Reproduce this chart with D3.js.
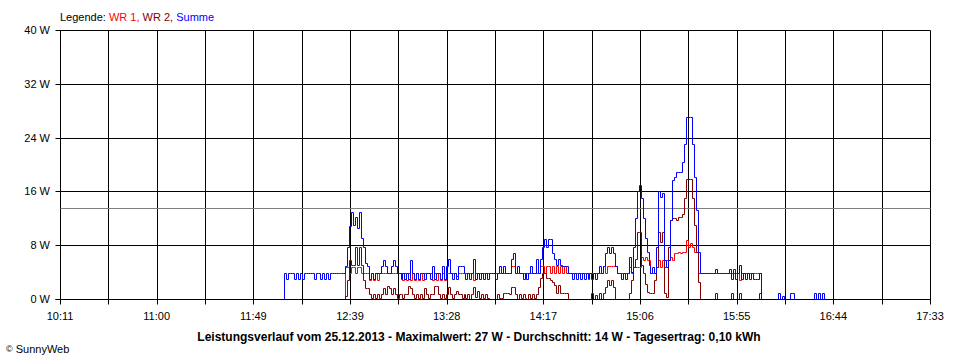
<!DOCTYPE html>
<html><head><meta charset="utf-8">
<script src="https://cdn.jsdelivr.net/npm/d3@7/dist/d3.min.js"></script>
<style>
body{margin:0;background:#fff;}
svg{display:block;font-family:"Liberation Sans",Arial,sans-serif;font-size:11px;}
</style></head><body>
<svg id="c" width="960" height="360"></svg>
<script>
// ---- data ----
const timeLabels = ["10:11","11:00","11:49","12:39","13:28","14:17","15:06","15:55","16:44","17:33"];
const timeDomain = [611, 1053];          // minutes after midnight (10:11 .. 17:33)
const wattTicks = [0, 8, 16, 24, 32, 40];
const average = 13.6;                     // W (gray line)
const legendItems = ["WR 1", "WR 2", "Summe"];
const titleText = "Leistungsverlauf vom 25.12.2013 - Maximalwert: 27 W - Durchschnitt: 14 W - Tagesertrag: 0,10 kWh";

// Summe, one value per minute starting 12:04
const sumStart = 724;
const sumVals = [
 0,3.9,2.9,3.9,3.9,3.9,2.9,3.9,2.9,3.9,
 2.9,3.9,3.9,3.9,3.9,3.9,2.9,3.9,3.9,2.9,
 3.9,2.9,3.9,2.9,3.9,3.9,3.9,3.9,3.9,3.9,
 3.9,3.9,4.9,7.8,10.8,12.9,11.0,12.2,10.5,12.9,
 9.0,7.8,5.3,4.9,2.9,3.9,2.9,3.9,3.9,3.9,
 4.9,5.8,4.9,3.9,3.9,4.9,5.8,4.9,3.9,3.9,
 2.9,3.9,2.9,3.9,2.9,5.8,3.9,2.9,3.9,2.9,
 3.9,3.9,2.9,3.9,3.9,2.9,4.9,2.9,3.9,3.9,
 2.9,4.9,2.9,4.9,5.9,3.9,2.9,3.9,2.9,4.9,
 4.9,4.9,3.9,2.9,3.9,2.9,3.9,5.9,2.9,3.9,
 2.9,3.9,2.9,3.9,2.9,3.9,3.9,3.9,2.9,3.9,
 4.9,3.9,4.9,3.9,3.9,3.9,5.9,6.8,3.9,4.9,
 3.9,3.9,2.9,3.9,2.9,3.9,4.9,3.9,3.9,5.9,
 3.9,5.9,7.8,8.9,7.8,8.9,8.9,6.8,6.0,5.0,
 6.0,5.0,4.9,4.9,4.9,3.9,3.9,2.9,3.9,2.9,
 3.9,2.9,3.9,2.9,3.9,2.9,3.9,2.9,3.9,2.9,
 3.9,4.9,3.9,4.9,6.8,7.8,6.8,7.8,6.8,4.9,
 3.9,3.9,2.9,3.9,2.9,3.9,6.3,4.0,7.8,12.0,
 16.0,17.0,15.0,12.0,9.0,7.0,5.0,3.9,4.8,3.9,
 7.8,16.0,15.2,15.8,5.8,4.8,5.8,11.7,17.7,18.2,
 18.9,18.9,18.9,20.4,23.1,27.0,27.0,27.0,23.1,18.2,
 13.2,7.0,3.9,3.9,3.9,3.9,3.9,3.9,3.9,3.9,
 4.4,3.9,3.9,3.9,3.9,3.9,3.9,4.4,2.9,4.4,
 2.9,3.9,5.0,2.9,3.9,2.9,3.9,2.9,3.9,2.9,
 2.9,2.9,3.9,0,0,0,0,0,0,0,
 0,0,0.85,0,0.5,0,0,0,0.85,0.85,
 0,0,0,0,0,0,0,0,0,0,
 0.85,0,0.85,0,0.85,0
];

// WR 1, one value per minute starting 12:35
const wr1Start = 755;
const wr1Vals = [
 0,4.8,4.8,3.9,4.8,4.8,3.9,4.8,4.8,3.9,
 3.9,3.9,3.9,2.8,3.9,2.8,3.9,2.8,3.9,3.9,
 3.9,3.9,3.9,3.9,3.9,3.9,3.9,3.9,3.9,3.9,
 2.8,3.9,2.8,3.9,2.8,3.9,2.8,3.9,2.8,3.9,
 2.8,3.9,3.9,3.9,3.9,2.8,3.9,2.8,3.9,2.8,
 3.9,2.8,3.9,3.9,3.9,3.9,3.9,3.4,3.9,3.9,
 3.9,3.9,3.9,3.9,3.9,3.9,2.8,3.9,3.9,3.9,
 3.9,3.9,3.9,3.9,3.9,3.9,3.9,3.9,3.9,3.9,
 3.9,3.9,3.9,3.9,3.9,4.9,4.9,3.9,3.9,3.9,
 3.9,3.9,3.9,3.9,3.9,3.9,3.9,3.9,3.9,3.9,
 4.9,4.9,3.9,4.9,4.9,3.9,4.9,3.9,4.9,3.9,
 4.9,3.9,4.9,3.9,3.9,3.9,3.9,3.9,3.9,3.9,
 3.9,3.9,3.9,3.9,3.9,3.9,3.9,3.9,3.9,3.9,
 3.9,3.9,4.9,3.9,4.9,4.9,4.9,4.9,4.9,3.9,
 3.9,3.9,3.9,3.9,3.9,4.8,3.9,4.8,4.8,4.8,
 4.8,6.3,5.8,6.3,5.8,5.8,3.9,3.9,3.9,4.8,
 5.8,4.8,5.8,4.8,5.8,5.8,6.3,5.8,6.8,6.8,
 7.0,6.8,7.0,7.0,8.8,7.8,8.3,7.8,7.0,7.0,
 3.9,3.9,3.9,3.9,3.9,3.9,3.9,3.9,3.9,3.9,
 3.9,3.9,3.9,3.9,3.9,3.9,3.9,3.9,3.9,3.9,
 3.9,2.8,3.9,3.9,3.9,3.9,3.9,3.9,3.9,3.9,
 3.9,3.9,0
];

// WR 2, one value per minute starting 12:35
const wr2Start = 755;
const wr2Vals = [
 0,0.5,2.8,5.8,5.0,5.0,7.8,5.0,7.8,5.0,
 2.8,1.6,1.6,0.7,0.2,0.7,0.2,0.7,0.2,0.7,
 1.6,0.7,1.9,1.6,0.7,1.6,0.7,0.1,0.7,0.7,
 0.2,0.7,0.7,1.9,1.6,0.7,0.2,0.7,0.2,0.7,
 0.2,1.6,0.7,0.2,0.7,0.7,1.9,1.9,0.7,0.2,
 0.7,0.2,0.7,1.8,0.7,0.2,0.7,1.2,0.7,0.7,
 0.1,0.7,0.1,0.7,0,0.7,1.8,0.3,1.2,0.2,
 0.7,0.1,0.7,0.1,0,0,0,0,0.7,0.2,
 0.2,0.85,0.85,0.85,0.7,1.8,1.8,0.7,0,0.7,
 0.2,0.7,0.1,0,0.7,0.2,0.7,0.1,0.7,1.8,
 3.1,3.8,3.8,3.1,3.1,2.8,2.6,2.1,0.85,2.1,
 0.85,0.85,0.85,0.85,0,0,0,0,0,0,
 0,0,0,0,0,0,0.85,0,0.6,0,
 0.85,0,0.85,1.8,2.8,2.1,2.8,1.8,0,0,
 0,0,0,0,0,0.85,2.8,4.8,6.0,10.0,
 10.0,5.0,3.8,2.3,1.1,0.85,0.85,0.85,2.8,4.8,
 10.0,8.5,10.0,0.9,0.3,7.8,11.7,12.0,12.0,11.7,
 12.2,12.2,12.7,15.0,17.9,17.9,17.9,15.0,11.0,7.0,
 2.5,0,0,0,0,0,0,0,0,0.85,
 0,0,0,0,0,0,0,0.85,0,0,
 0,0.85,0,0,0,0,0,0,0,0,
 0,0.85,0
];

// ---- chart ----
const svg = d3.select("#c");
const x = d3.scaleLinear().domain(timeDomain).range([60, 930]);
const y = d3.scaleLinear().domain([0, 40]).range([299, 30]);
const px = v => Math.round(v) + 0.5;   // pixel-align
const nGrid = 18;
const gridTimes = d3.range(nGrid + 1).map(i => timeDomain[0] + i * (timeDomain[1] - timeDomain[0]) / nGrid);

const grid = svg.append("g").attr("class", "grid");
grid.selectAll("line.v").data(gridTimes).join("line").attr("class", "v")
  .attr("x1", d => px(x(d))).attr("x2", d => px(x(d)))
  .attr("y1", px(y(40))).attr("y2", px(y(0)) + 5)
  .attr("stroke", "#000");
grid.selectAll("line.h").data(wattTicks).join("line").attr("class", "h")
  .attr("x1", px(x.range()[0]) - 5).attr("x2", px(x.range()[1]))
  .attr("y1", d => px(y(d))).attr("y2", d => px(y(d)))
  .attr("stroke", "#000");

// y labels
svg.append("g").selectAll("text").data(wattTicks).join("text")
  .attr("x", 50).attr("y", d => y(d)).attr("dy", "0.36em")
  .attr("text-anchor", "end").attr("fill", "#000")
  .text(d => d + " W");

// x labels
svg.append("g").selectAll("text").data(gridTimes.filter((d, i) => i % 2 === 0)).join("text")
  .attr("x", d => x(d)).attr("y", 320)
  .attr("text-anchor", "middle").attr("fill", "#000")
  .text((d, i) => timeLabels[i]);

// average line
svg.append("line")
  .attr("x1", px(x.range()[0])).attr("x2", px(x.range()[1]))
  .attr("y1", px(y(average))).attr("y2", px(y(average)))
  .attr("stroke", "#808080");

const lineGen = d3.line().x(d => px(x(d.t))).y(d => px(y(d.v))).curve(d3.curveStepAfter);
const toSeries = (start, vals) => vals.map((v, i) => ({t: start + i, v: v}));
const series = [
  {name: "wr1", data: toSeries(wr1Start, wr1Vals), color: "#ff0000"},
  {name: "wr2", data: toSeries(wr2Start, wr2Vals), color: "#800000"},
  {name: "sum", data: toSeries(sumStart, sumVals), color: "#0000ff"}
];
const dataG = svg.append("g").attr("class", "series");
series.forEach(s => {
  dataG.append("path")
    .attr("d", lineGen(s.data))
    .attr("fill", "none")
    .style("stroke", s.color)
    .attr("stroke-width", 1);
});

// baseline on top
svg.append("line")
  .attr("x1", px(x.range()[0]) - 5).attr("x2", px(x.range()[1]))
  .attr("y1", px(y(0))).attr("y2", px(y(0))).attr("stroke", "#000");

// legend
const leg = svg.append("text").attr("x", 60).attr("y", 20.5).attr("fill", "#000");
leg.append("tspan").text("Legende: ");
const legColors = ["#ff0000", "#800000", "#0000ff"];
legendItems.forEach((s, i) => {
  leg.append("tspan").attr("fill", legColors[i]).text(s + (i < legendItems.length - 1 ? ", " : ""));
});

// title
svg.append("text").attr("x", 479).attr("y", 341).attr("text-anchor", "middle")
  .attr("font-weight", "bold").attr("font-size", "12px").attr("fill", "#000").text(titleText);

// copyright
const cp = svg.append("text").attr("x", 6).attr("y", 353).attr("fill", "#000");
cp.append("tspan").attr("font-size", "9px").attr("dy", "-1").text("©");
cp.append("tspan").attr("dy", "1").text(" SunnyWeb");
</script>
</body></html>
